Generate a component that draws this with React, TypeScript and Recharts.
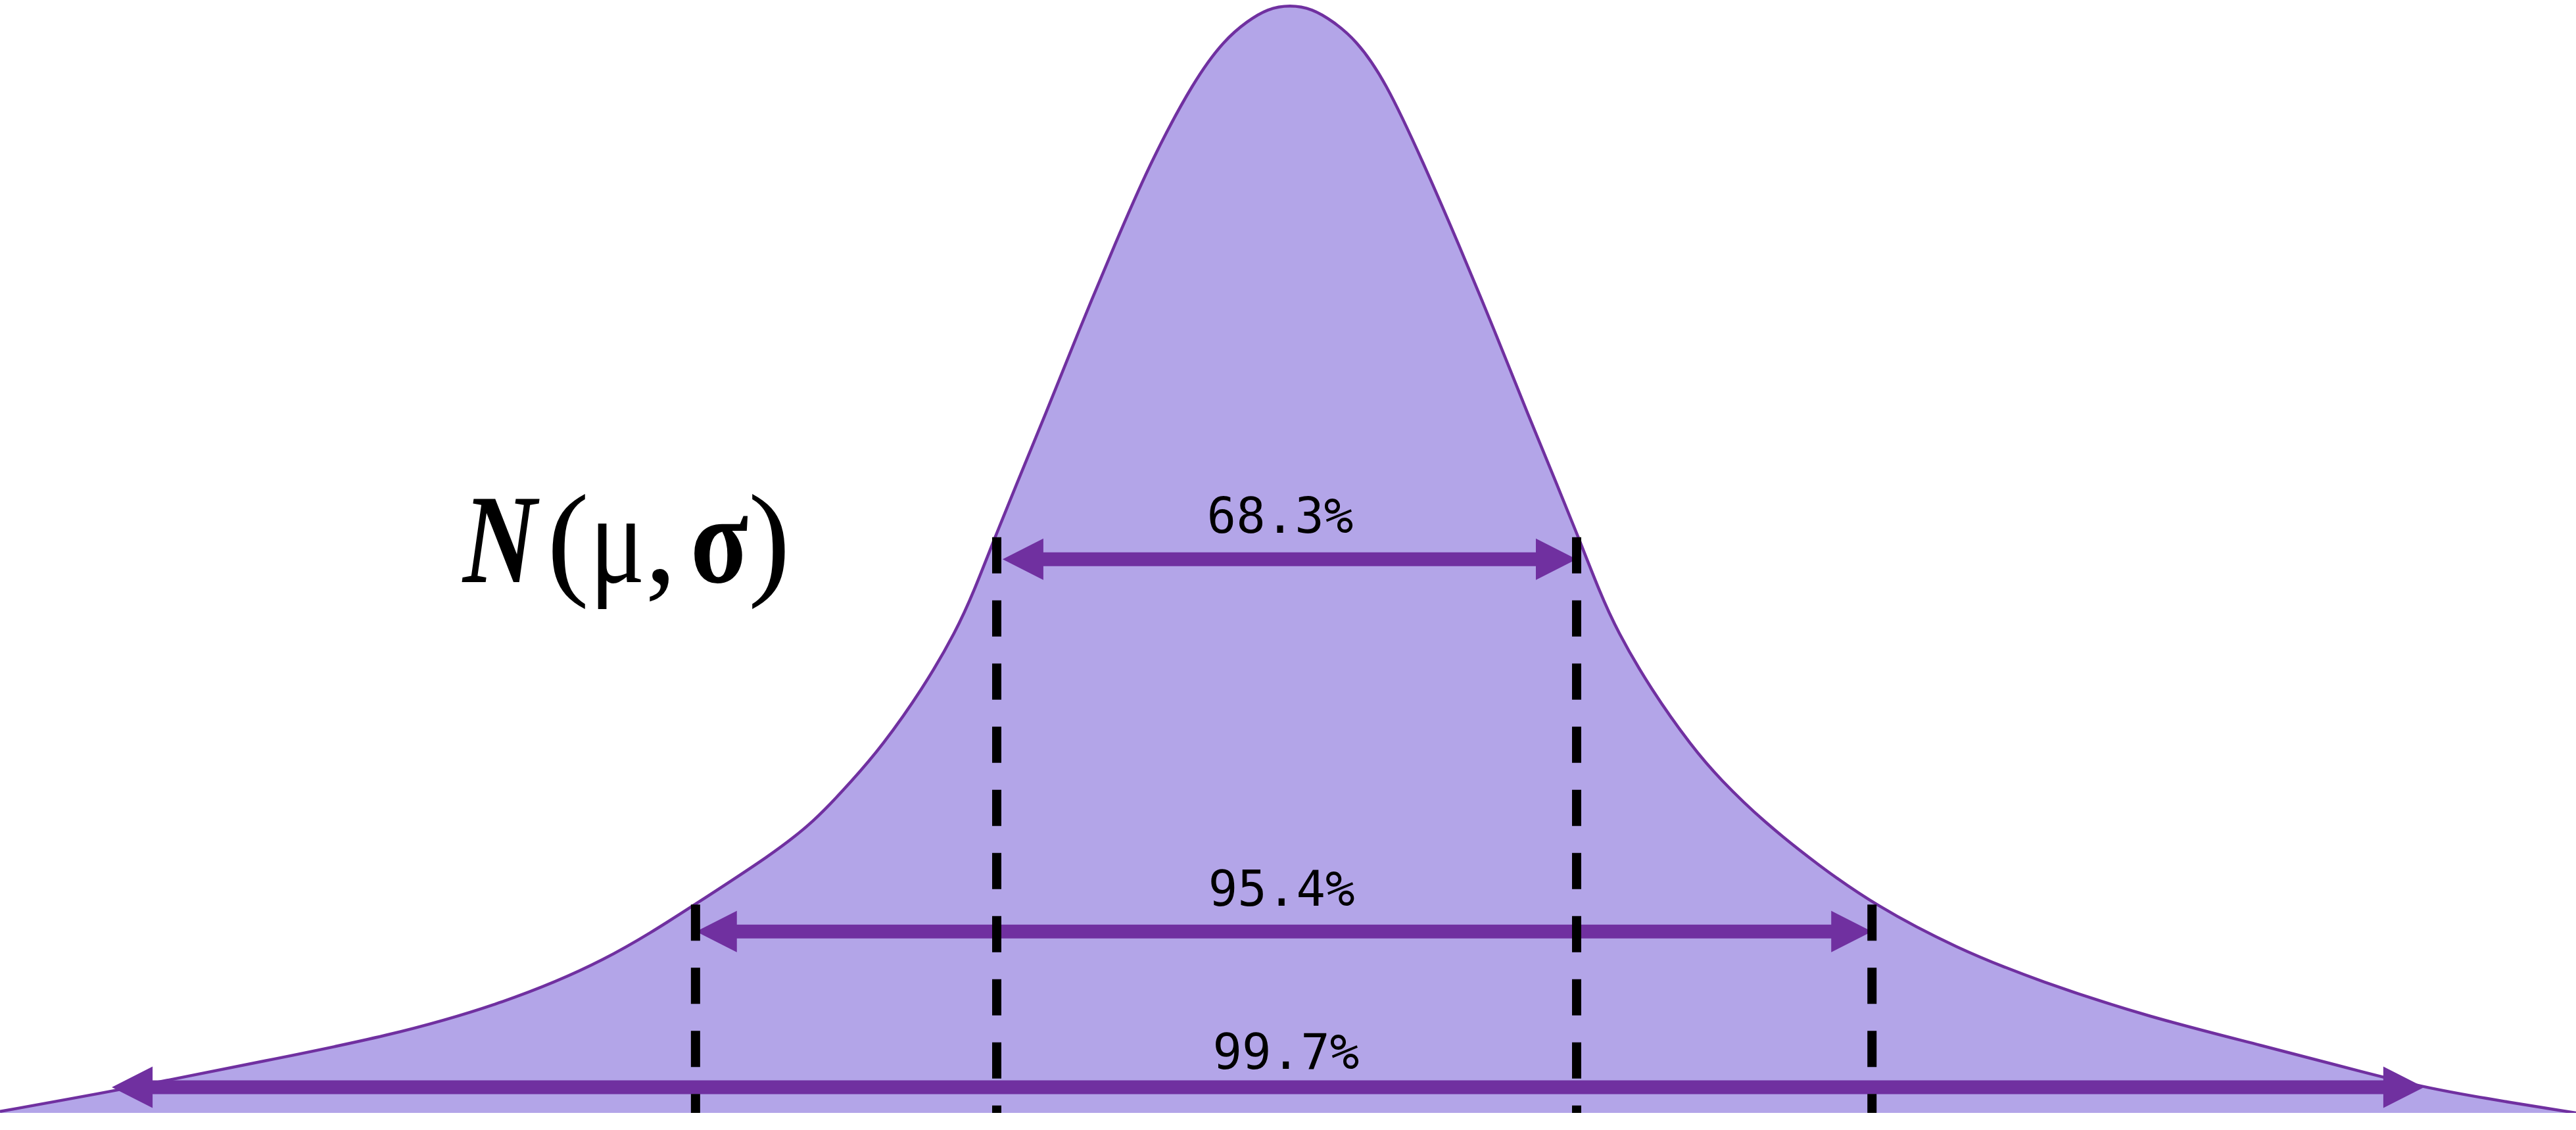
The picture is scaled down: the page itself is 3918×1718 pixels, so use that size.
import { Area, AreaChart, ReferenceDot, ReferenceLine, XAxis, YAxis } from "recharts";

// x in units of sigma from the mean, y as density height (peak ~0.4)
const curveX = [
  -4.4, -4.027, -3.857, -3.461, -3.084, -2.707, -2.329, -2.026, -1.763, -1.62, -1.485,
  -1.39, -1.247, -1.132, -1.074, -1.002, -0.932, -0.831, -0.717, -0.588, -0.474, -0.319,
  -0.216, -0.139, -0.07, 0.007, 0.083, 0.153, 0.231, 0.33, 0.465, 0.58, 0.708, 0.822,
  0.923, 0.993, 1.065, 1.123, 1.238, 1.381, 1.476, 1.624, 1.813, 2.001, 2.284, 2.567,
  2.945, 3.322, 3.699, 3.87, 4.077, 4.4,
];
const curveY = [
  0.0005, 0.0076, 0.0111, 0.0194, 0.0274, 0.0383, 0.0544, 0.0749, 0.0929, 0.1045, 0.1199,
  0.1314, 0.1525, 0.1735, 0.1872, 0.2066, 0.2248, 0.2504, 0.2806, 0.313, 0.3409, 0.3716,
  0.3858, 0.3924, 0.3969, 0.3983, 0.3969, 0.3924, 0.3858, 0.3716, 0.3409, 0.313, 0.2806,
  0.2504, 0.2248, 0.2066, 0.1872, 0.1735, 0.1525, 0.1314, 0.1199, 0.1047, 0.0889, 0.0749,
  0.0591, 0.0473, 0.0343, 0.0244, 0.0139, 0.0095, 0.0054, 0,
];

// dashed sigma markers: position and the height they reach
const markerX = [-2.024, -0.995, 0.986, 1.995];
const markerTop = [0.0749, 0.2069, 0.2069, 0.0749];

// coverage arrows
const spanLabels = ["68.3%", "95.4%", "99.7%"];
const spanFrom = [-0.975, -2.022, -4.018];
const spanTo = [0.986, 1.995, 3.881];
const spanLevel = [0.199, 0.0652, 0.0092];
const spanLabelX = [-0.027, -0.022, -0.007];
const spanLabelY = [0.2085, 0.0745, 0.0158];

const FILL = "#b3a5e8";
const PURPLE = "#7030a0";

const data = curveX.map((x, i) => ({ x, y: curveY[i] }));

function DoubleArrow(props: any) {
  const { x1, x2, y1 } = props;
  const l = Math.min(x1, x2);
  const r = Math.max(x1, x2);
  const y = y1;
  const head = 62;
  const hh = 31.5;
  const sh = 10.5;
  const pts = [
    [l, y], [l + head, y - hh], [l + head, y - sh], [r - head, y - sh], [r - head, y - hh],
    [r, y], [r - head, y + hh], [r - head, y + sh], [l + head, y + sh], [l + head, y + hh],
  ].map((p) => p.join(",")).join(" ");
  return <polygon points={pts} fill={PURPLE} />;
}

function Formula(p: any) {
  const { cx, cy } = p;
  return (
    <text y={cy} fontFamily="Liberation Serif" fontSize={192} fill="#000">
      <tspan x={cx + 8} fontStyle="italic" fontWeight="bold" textLength={112} lengthAdjust="spacingAndGlyphs">N</tspan>
      <tspan x={cx + 136}>(</tspan>
      <tspan x={cx + 201} textLength={84} lengthAdjust="spacingAndGlyphs">μ</tspan>
      <tspan x={cx + 285}>,</tspan>
      <tspan x={cx + 354} fontWeight="bold" textLength={88} lengthAdjust="spacingAndGlyphs">σ</tspan>
      <tspan x={cx + 442}>)</tspan>
    </text>
  );
}

export default function App() {
  return (
    <div style={{ width: 3918, height: 1718, background: "#fff" }}>
      <style>{"body{margin:0}"}</style>
      <AreaChart width={3918} height={1718} data={data} margin={{ top: 0, right: 0, bottom: 26, left: 0 }}>
        <XAxis type="number" dataKey="x" domain={[-4.4, 4.4]} hide allowDataOverflow />
        <YAxis type="number" domain={[0, 0.4]} hide allowDataOverflow />
        <Area
          type="basis"
          dataKey="y"
          stroke={PURPLE}
          strokeWidth={4.5}
          fill={FILL}
          fillOpacity={1}
          dot={false}
          activeDot={false}
          isAnimationActive={false}
        />
        {spanLabels.map((s, i) => (
          <ReferenceLine
            key={s}
            segment={[{ x: spanFrom[i], y: spanLevel[i] }, { x: spanTo[i], y: spanLevel[i] }]}
            shape={(p: any) => <DoubleArrow {...p} />}
          />
        ))}
        {markerX.map((x, i) => (
          <ReferenceLine
            key={"m" + i}
            segment={[{ x, y: markerTop[i] }, { x, y: 0 }]}
            stroke="#000"
            strokeWidth={14}
            strokeDasharray="55 41"
          />
        ))}
        {spanLabels.map((s, i) => (
          <ReferenceDot
            key={"t" + s}
            x={spanLabelX[i]}
            y={spanLabelY[i]}
            r={0}
            shape={(p: any) => (
              <text x={p.cx} y={p.cy} textAnchor="middle" fontFamily="DejaVu Sans Mono" fontSize={74} fill="#000">
                {s}
              </text>
            )}
          />
        ))}
        <ReferenceDot x={-2.837} y={0.1908} r={0} shape={(p: any) => <Formula {...p} />} />
      </AreaChart>
    </div>
  );
}
